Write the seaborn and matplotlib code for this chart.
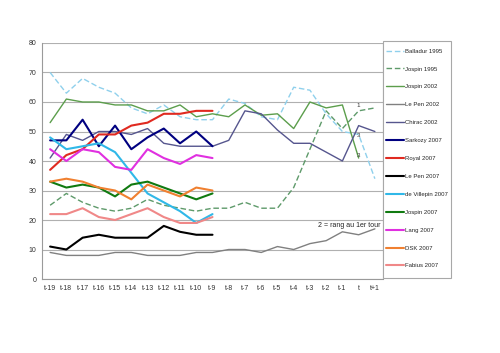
import numpy as np
import pandas as pd
import matplotlib
matplotlib.use("Agg")
import matplotlib.pyplot as plt
from matplotlib.patches import Rectangle
import seaborn as sns

sns.set_style("white")
plt.rcParams['font.family'] = ['Liberation Sans', 'DejaVu Sans']

labels = ["t-19", "t-18", "t-17", "t-16", "t-15", "t-14", "t-13", "t-12", "t-11", "t-10",
          "t-9", "t-8", "t-7", "t-6", "t-5", "t-4", "t-3", "t-2", "t-1", "t", "t+1"]

nan = np.nan
balladur_1995 = [70, 63, 68, 65, 63, 58, 56, 59, 55, 54, 54, 61, 59.5, 55, 54, 65, 64, 56, 50, 49, 34]
jospin_1995 = [25, 29, 26, 24, 23, 24, 27, 25, 24, 23, 24, 24, 26, 24, 24, 31, 44, 57, 51, 57, 58]
jospin_2002 = [53, 61, 60, 60, 59, 59, 57, 57, 59, 55, 56, 55, 59, 55.5, 56, 51, 60, 58, 59, 41, nan]
lepen_2002 = [9, 8, 8, 8, 9, 9, 8, 8, 8, 9, 9, 10, 10, 9, 11, 10, 12, 13, 16, 15, 17]
chirac_2002 = [41, 49, 47, 50, 50, 49, 51, 46, 45, 45, 45, 47, 57, 56, 50.5, 46, 46, 43, 40, 52, 50]
sarkozy_2007 = [47, 47, 54, 45, 52, 44, 48, 51, 46, 50, 45]
royal_2007 = [37, 42, 44, 49, 49, 52, 53, 56, 56, 57, 57]
lepen_2007 = [11, 10, 14, 15, 14, 14, 14, 18, 16, 15, 15]
villepin_2007 = [48, 44, 45, 46, 43, 36, 29, 26, 23, 19, 22]
jospin_2007 = [33, 31, 32, 31, 28, 32, 33, 31, 29, 27, 29]
lang_2007 = [44, 40, 44, 43, 38, 37, 44, 41, 39, 42, 41]
dsk_2007 = [33, 34, 33, 31, 30, 27, 32, 30, 28, 31, 30]
fabius_2007 = [22, 22, 24, 21, 20, 22, 24, 21, 19, 19, 21]

series = [
    ("Balladur 1995", balladur_1995, "#8FD0EC", (4, 2), 1.0),
    ("Jospin 1995", jospin_1995, "#5E9A6A", (4, 2), 1.0),
    ("Jospin 2002", jospin_2002, "#5C9E4C", None, 1.0),
    ("Le Pen 2002", lepen_2002, "#808080", None, 1.0),
    ("Chirac 2002", chirac_2002, "#56568E", None, 1.0),
    ("Sarkozy 2007", sarkozy_2007, "#000080", None, 1.5),
    ("Royal 2007", royal_2007, "#E02A20", None, 1.5),
    ("Le Pen 2007", lepen_2007, "#000000", None, 1.5),
    ("de Villepin 2007", villepin_2007, "#30B8E8", None, 1.5),
    ("Jospin 2007", jospin_2007, "#107A10", None, 1.5),
    ("Lang 2007", lang_2007, "#E030E0", None, 1.5),
    ("DSK 2007", dsk_2007, "#F08030", None, 1.5),
    ("Fabius 2007", fabius_2007, "#F08888", None, 1.5),
]

W, H = 500, 353
fig = plt.figure(figsize=(W / 100, H / 100), dpi=100)
ax = fig.add_axes([0.084, 0.2096, 0.682, 0.6686])

handles = []
for name, vals, color, dash, lw in series:
    df = pd.DataFrame({"x": np.arange(len(vals)), "y": vals}).dropna()
    sns.lineplot(data=df, x="x", y="y", ax=ax, color=color, linewidth=lw,
                 label=name, legend=False)
    line = ax.get_lines()[-1]
    if dash is not None:
        line.set_dashes(dash)
    handles.append(line)

ax.set_xlim(-0.5, len(labels) - 0.5)
ax.set_ylim(0, 80)
ax.set_yticks(range(0, 81, 10))
ax.set_xticks(range(len(labels)))
ax.set_xticklabels(labels)
ax.set_xlabel("")
ax.set_ylabel("")
ax.tick_params(axis="both", labelsize=5, colors="#333333", width=0.6)
ax.tick_params(axis="y", length=2, pad=2)
ax.tick_params(axis="x", length=0, pad=4)
ax.grid(axis="y", color="#b0b0b0", linewidth=0.8)
ax.set_axisbelow(True)
for side in ["top", "right"]:
    ax.spines[side].set_visible(False)
for side in ["left", "bottom"]:
    ax.spines[side].set_color("#9a9a9a")
    ax.spines[side].set_linewidth(0.8)
ax.axvline(len(labels) - 0.5, color="#b0b0b0", linewidth=0.8)

ax.text(19, 57.8, "1", fontsize=4.5, ha="center", va="bottom", color="#333333")
ax.text(19, 48.5, "3", fontsize=4.5, ha="center", va="center", color="#333333")
ax.text(19, 41.7, "3", fontsize=4.5, ha="center", va="center", color="#333333")
ax.text(20.35, 18.3, "2 = rang au 1er tour", fontsize=5, ha="right", va="center", color="#222222")

# legend frame
fig.patches.append(Rectangle((383 / W, 1 - 278 / H), (451 - 383) / W, (278 - 41) / H,
                             transform=fig.transFigure, fill=False,
                             edgecolor="#a8a8a8", linewidth=0.8))
leg = fig.legend(handles=handles, labels=[s[0] for s in series],
                 loc="upper left", bbox_to_anchor=(386 / W, 1 - 48.5 / H),
                 fontsize=4.3, frameon=False, handlelength=3.0,
                 handletextpad=0.2, labelspacing=2.13, borderpad=0, borderaxespad=0)

fig.savefig("out.png", dpi=100, facecolor="white")
